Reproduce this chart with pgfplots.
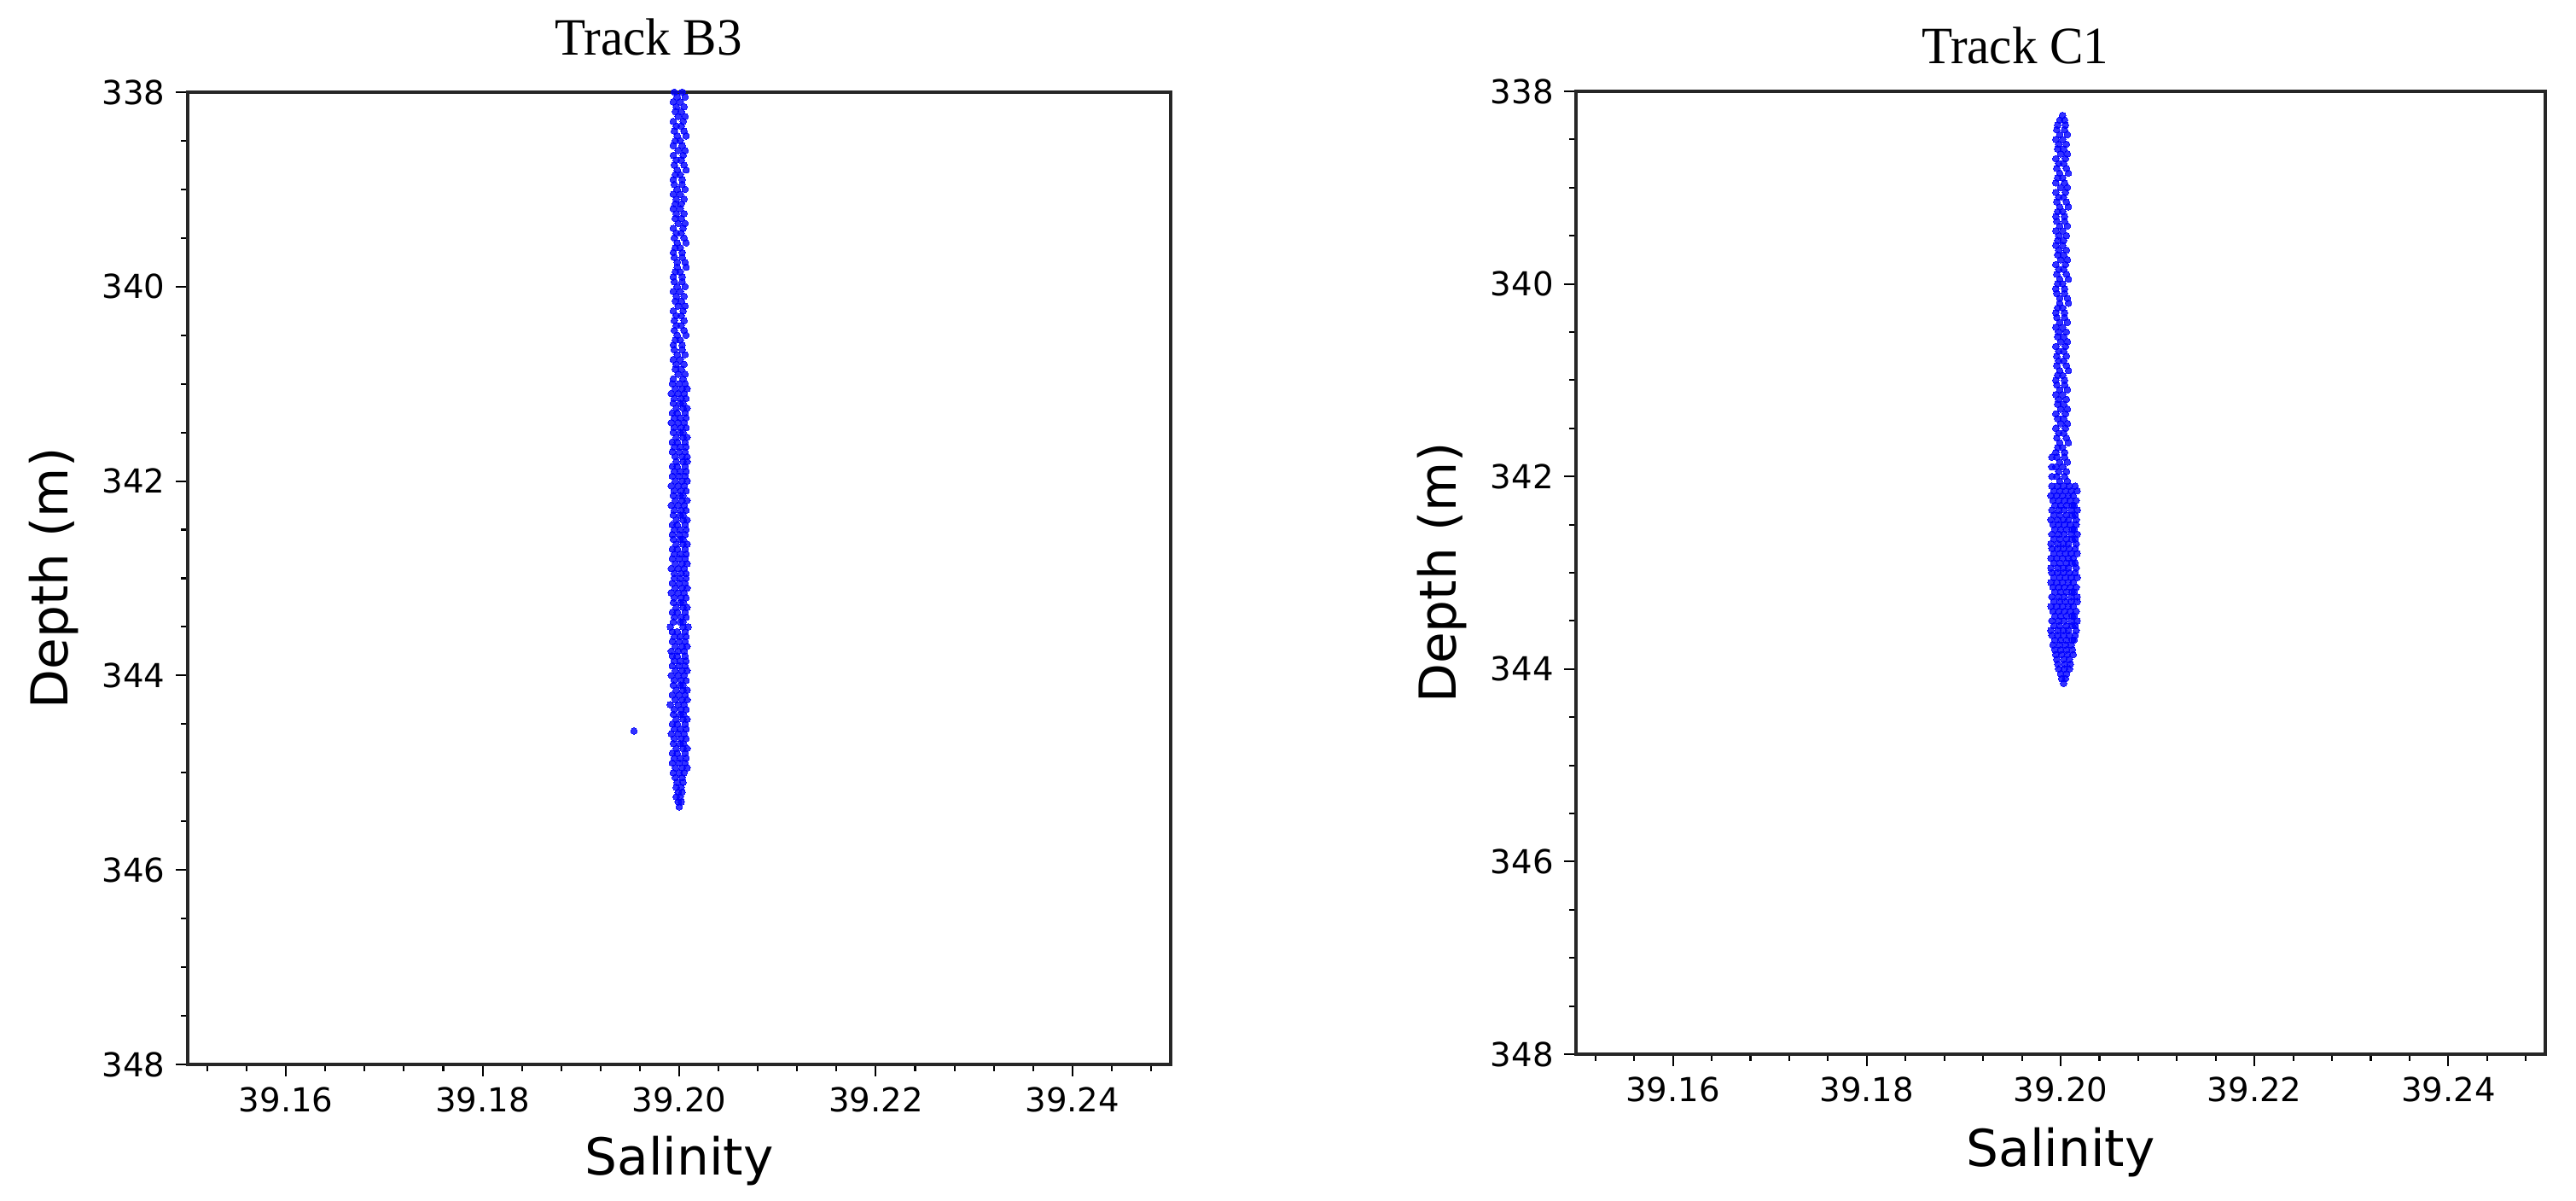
\documentclass[border=0pt]{standalone}
\usepackage{fontspec}
\setmainfont{DejaVu Sans}
\newfontfamily\titlefont{Liberation Serif}
\usepackage{pgfplots}
\usepackage{pgfplotstable}
\pgfplotsset{compat=1.18}

% Track B3: depth, then up to three salinity samples per depth
\pgfplotstableread{
d a b c
338.00 39.1995 39.2003 nan
338.05 39.1998 39.2006 nan
338.10 39.1994 39.2001 nan
338.15 39.1997 39.2005 nan
338.20 39.1996 39.2002 nan
338.25 39.1999 39.2006 nan
338.30 39.1994 39.2004 nan
338.35 39.1997 39.2002 nan
338.40 39.1995 39.2005 nan
338.45 39.1998 39.2007 nan
338.50 39.1996 39.2001 nan
338.55 39.1994 39.2003 nan
338.60 39.1999 39.2006 nan
338.65 39.1994 39.2004 nan
338.70 39.1997 39.2002 nan
338.75 39.1995 39.2005 nan
338.80 39.1998 39.2007 nan
338.85 39.1996 39.2001 nan
338.90 39.1994 39.2003 nan
338.95 39.1995 39.2003 nan
339.00 39.1998 39.2006 nan
339.05 39.1994 39.2001 nan
339.10 39.1997 39.2005 nan
339.15 39.1996 39.2002 nan
339.20 39.1994 39.2001 nan
339.25 39.1997 39.2005 nan
339.30 39.1996 39.2002 nan
339.35 39.1999 39.2006 nan
339.40 39.1994 39.2004 nan
339.45 39.1997 39.2002 nan
339.50 39.1995 39.2005 nan
339.55 39.1998 39.2007 nan
339.60 39.1996 39.2001 nan
339.65 39.1994 39.2003 nan
339.70 39.1995 39.2003 nan
339.75 39.1998 39.2006 nan
339.80 39.1998 39.2007 nan
339.85 39.1996 39.2001 nan
339.90 39.1994 39.2003 nan
339.95 39.1995 39.2003 nan
340.00 39.1998 39.2006 nan
340.05 39.1994 39.2001 nan
340.10 39.1997 39.2005 nan
340.15 39.1996 39.2002 nan
340.20 39.1999 39.2006 nan
340.25 39.1994 39.2004 nan
340.30 39.1997 39.2002 nan
340.35 39.1995 39.2005 nan
340.40 39.1997 39.2002 nan
340.45 39.1995 39.2005 nan
340.50 39.1998 39.2007 nan
340.55 39.1996 39.2001 nan
340.60 39.1994 39.2003 nan
340.65 39.1995 39.2003 nan
340.70 39.1998 39.2006 nan
340.75 39.1994 39.2001 nan
340.80 39.1997 39.2005 nan
340.85 39.1996 39.2002 nan
340.90 39.1999 39.2006 nan
340.95 39.1994 39.2004 nan
341.00 39.1993 39.2000 39.2006
341.05 39.1996 39.2003 39.2008
341.10 39.1992 39.1999 39.2005
341.15 39.1995 39.2002 39.2007
341.20 39.1994 39.2001 39.2004
341.25 39.1997 39.2004 39.2008
341.30 39.1993 39.1998 39.2006
341.35 39.1995 39.2001 39.2007
341.40 39.1992 39.1999 39.2005
341.45 39.1995 39.2002 39.2007
341.50 39.1994 39.2001 39.2004
341.55 39.1997 39.2004 39.2008
341.60 39.1993 39.1998 39.2006
341.65 39.1995 39.2001 39.2007
341.70 39.1993 39.2000 39.2006
341.75 39.1996 39.2003 39.2008
341.80 39.1997 39.2004 39.2008
341.85 39.1993 39.1998 39.2006
341.90 39.1995 39.2001 39.2007
341.95 39.1993 39.2000 39.2006
342.00 39.1996 39.2003 39.2008
342.05 39.1992 39.1999 39.2005
342.10 39.1995 39.2002 39.2007
342.15 39.1994 39.2001 39.2004
342.20 39.1996 39.2003 39.2008
342.25 39.1992 39.1999 39.2005
342.30 39.1995 39.2002 39.2007
342.35 39.1994 39.2001 39.2004
342.40 39.1997 39.2004 39.2008
342.45 39.1993 39.1998 39.2006
342.50 39.1995 39.2001 39.2007
342.55 39.1993 39.2000 39.2006
342.60 39.1994 39.2001 39.2004
342.65 39.1997 39.2004 39.2008
342.70 39.1993 39.1998 39.2006
342.75 39.1995 39.2001 39.2007
342.80 39.1993 39.2000 39.2006
342.85 39.1996 39.2003 39.2008
342.90 39.1992 39.1999 39.2005
342.95 39.1995 39.2002 39.2007
343.00 39.1995 39.2001 39.2007
343.05 39.1993 39.2000 39.2006
343.10 39.1996 39.2003 39.2008
343.15 39.1992 39.1999 39.2005
343.20 39.1995 39.2002 39.2007
343.25 39.1994 39.2001 39.2004
343.30 39.1997 39.2004 39.2008
343.35 39.1993 39.1998 39.2006
343.40 39.1995 39.2002 39.2007
343.45 39.1994 39.2001 39.2004
343.50 39.1991 39.2004 39.2009
343.55 39.1993 39.1998 39.2006
343.60 39.1995 39.2001 39.2007
343.65 39.1993 39.2000 39.2006
343.70 39.1996 39.2003 39.2008
343.75 39.1992 39.1999 39.2005
343.80 39.1993 39.1998 39.2006
343.85 39.1995 39.2001 39.2007
343.90 39.1993 39.2000 39.2006
343.95 39.1996 39.2003 39.2008
344.00 39.1992 39.1999 39.2005
344.05 39.1995 39.2002 39.2007
344.10 39.1994 39.2001 39.2004
344.15 39.1997 39.2004 39.2008
344.20 39.1993 39.2000 39.2006
344.25 39.1996 39.2003 39.2008
344.30 39.1991 39.1999 39.2005
344.35 39.1995 39.2002 39.2007
344.40 39.1994 39.2001 39.2004
344.45 39.1997 39.2004 39.2008
344.50 39.1993 39.1998 39.2006
344.55 39.1995 39.2001 39.2007
344.60 39.1992 39.1999 39.2005
344.65 39.1995 39.2002 39.2007
344.70 39.1994 39.2001 39.2004
344.75 39.1997 39.2004 39.2008
344.80 39.1993 39.1998 39.2006
344.85 39.1995 39.2001 39.2007
344.90 39.1993 39.2000 39.2006
344.95 39.1996 39.2003 39.2008
345.00 39.1994 39.2000 39.2005
345.05 39.1996 39.2003 nan
345.10 39.1998 39.2004 nan
345.15 39.1997 39.2002 nan
345.20 39.1999 39.2003 nan
345.25 39.1997 39.2001 nan
345.30 39.1999 39.2002 nan
345.35 39.2000 nan nan
}\trackB

% Track C1: depth, then up to five salinity samples per depth
\pgfplotstableread{
d a b c e f
338.25 39.2002 nan nan nan nan
338.30 39.1999 39.2004 nan nan nan
338.35 39.1997 39.2005 nan nan nan
338.40 39.1996 39.2004 nan nan nan
338.45 39.1999 39.2007 nan nan nan
338.50 39.1995 39.2002 nan nan nan
338.55 39.1998 39.2006 nan nan nan
338.60 39.1997 39.2003 nan nan nan
338.65 39.2000 39.2007 nan nan nan
338.70 39.1995 39.2005 nan nan nan
338.75 39.1998 39.2003 nan nan nan
338.80 39.1996 39.2006 nan nan nan
338.85 39.1999 39.2008 nan nan nan
338.90 39.1997 39.2002 nan nan nan
338.95 39.1995 39.2004 nan nan nan
339.00 39.2000 39.2007 nan nan nan
339.05 39.1995 39.2005 nan nan nan
339.10 39.1998 39.2003 nan nan nan
339.15 39.1996 39.2006 nan nan nan
339.20 39.1999 39.2008 nan nan nan
339.25 39.1997 39.2002 nan nan nan
339.30 39.1995 39.2004 nan nan nan
339.35 39.1996 39.2004 nan nan nan
339.40 39.1999 39.2007 nan nan nan
339.45 39.1995 39.2002 nan nan nan
339.50 39.1998 39.2006 nan nan nan
339.55 39.1997 39.2003 nan nan nan
339.60 39.1995 39.2002 nan nan nan
339.65 39.1998 39.2006 nan nan nan
339.70 39.1997 39.2003 nan nan nan
339.75 39.2000 39.2007 nan nan nan
339.80 39.1995 39.2005 nan nan nan
339.85 39.1998 39.2003 nan nan nan
339.90 39.1996 39.2006 nan nan nan
339.95 39.1999 39.2008 nan nan nan
340.00 39.1997 39.2002 nan nan nan
340.05 39.1995 39.2004 nan nan nan
340.10 39.1996 39.2004 nan nan nan
340.15 39.1999 39.2007 nan nan nan
340.20 39.1999 39.2008 nan nan nan
340.25 39.1997 39.2002 nan nan nan
340.30 39.1995 39.2004 nan nan nan
340.35 39.1996 39.2004 nan nan nan
340.40 39.1999 39.2007 nan nan nan
340.45 39.1995 39.2002 nan nan nan
340.50 39.1998 39.2006 nan nan nan
340.55 39.1997 39.2003 nan nan nan
340.60 39.2000 39.2007 nan nan nan
340.65 39.1995 39.2005 nan nan nan
340.70 39.1998 39.2003 nan nan nan
340.75 39.1996 39.2006 nan nan nan
340.80 39.1998 39.2003 nan nan nan
340.85 39.1996 39.2006 nan nan nan
340.90 39.1999 39.2008 nan nan nan
340.95 39.1997 39.2002 nan nan nan
341.00 39.1995 39.2004 nan nan nan
341.05 39.1996 39.2004 nan nan nan
341.10 39.1999 39.2007 nan nan nan
341.15 39.1995 39.2002 nan nan nan
341.20 39.1998 39.2006 nan nan nan
341.25 39.1997 39.2003 nan nan nan
341.30 39.2000 39.2007 nan nan nan
341.35 39.1995 39.2005 nan nan nan
341.40 39.1997 39.2003 nan nan nan
341.45 39.2000 39.2007 nan nan nan
341.50 39.1995 39.2005 nan nan nan
341.55 39.1998 39.2003 nan nan nan
341.60 39.1996 39.2006 nan nan nan
341.65 39.1999 39.2008 nan nan nan
341.70 39.1997 39.2002 nan nan nan
341.75 39.1995 39.2004 nan nan nan
341.80 39.1996 39.2004 39.1991 nan nan
341.85 39.1999 39.2007 nan nan nan
341.90 39.1995 39.2002 39.1991 nan nan
341.95 39.1998 39.2006 nan nan nan
342.00 39.1996 39.2004 39.1991 nan nan
342.05 39.1999 39.2007 nan nan nan
342.10 39.1991 39.1997 39.2003 39.2009 39.2015
342.15 39.1993 39.1999 39.2005 39.2011 39.2017
342.20 39.1990 39.1996 39.2002 39.2008 39.2013
342.25 39.1992 39.1998 39.2004 39.2010 39.2016
342.30 39.1994 39.2000 39.2006 39.2012 39.2014
342.35 39.1991 39.1998 39.2004 39.2011 39.2017
342.40 39.1993 39.1999 39.2006 39.2012 39.2015
342.45 39.1990 39.1997 39.2003 39.2008 39.2016
342.50 39.1992 39.1998 39.2004 39.2010 39.2016
342.55 39.1994 39.2000 39.2006 39.2012 39.2014
342.60 39.1991 39.1998 39.2004 39.2011 39.2017
342.65 39.1993 39.1999 39.2006 39.2012 39.2015
342.70 39.1990 39.1997 39.2003 39.2008 39.2016
342.75 39.1991 39.1997 39.2003 39.2009 39.2015
342.80 39.1993 39.1999 39.2005 39.2011 39.2017
342.85 39.1990 39.1996 39.2002 39.2008 39.2013
342.90 39.1993 39.1999 39.2006 39.2012 39.2015
342.95 39.1990 39.1997 39.2003 39.2008 39.2016
343.00 39.1991 39.1997 39.2003 39.2009 39.2015
343.05 39.1993 39.1999 39.2005 39.2011 39.2017
343.10 39.1990 39.1996 39.2002 39.2008 39.2013
343.15 39.1992 39.1998 39.2004 39.2010 39.2016
343.20 39.1994 39.2000 39.2006 39.2012 39.2014
343.25 39.1991 39.1998 39.2004 39.2011 39.2017
343.30 39.1993 39.1999 39.2005 39.2011 39.2017
343.35 39.1990 39.1996 39.2002 39.2008 39.2013
343.40 39.1992 39.1998 39.2004 39.2010 39.2016
343.45 39.1994 39.2000 39.2006 39.2012 39.2014
343.50 39.1991 39.1998 39.2004 39.2011 39.2017
343.55 39.1993 39.1999 39.2006 39.2012 39.2015
343.60 39.1990 39.1997 39.2003 39.2008 39.2016
343.65 39.1991 39.1997 39.2003 39.2009 39.2015
343.70 39.1994 39.2000 39.2006 39.2012 39.2014
343.75 39.1992 39.1999 39.2005 39.2011 nan
343.80 39.1994 39.2000 39.2006 39.2012 nan
343.85 39.1995 39.2001 39.2007 39.2013 nan
343.90 39.1996 39.2003 39.2009 nan nan
343.95 39.1997 39.2004 39.2010 nan nan
344.00 39.1998 39.2004 39.2009 nan nan
344.05 39.2000 39.2006 nan nan nan
344.10 39.2001 39.2005 nan nan nan
344.15 39.2003 nan nan nan nan
}\trackC

\pgfplotsset{
  salinity/.style={
    scale only axis,
    xmin=39.15, xmax=39.25,
    ymin=338, ymax=348,
    y dir=reverse,
    xtick={39.16,39.18,39.20,39.22,39.24},
    minor xtick={39.152,39.156,39.164,39.168,39.172,39.176,39.184,39.188,39.192,39.196,
      39.204,39.208,39.212,39.216,39.224,39.228,39.232,39.236,39.244,39.248},
    ytick={338,340,342,344,346,348},
    minor y tick num=3,
    xtick pos=bottom, ytick pos=left,
    tick align=outside,
    major tick length=0.14cm, minor tick length=0.08cm,
    tick style={black, line width=0.6pt},
    axis line style={black!85, line width=0.9pt},
    /pgf/number format/assume math mode=true,
    tick label style={font=\fontsize{11}{13}\selectfont},
    xticklabel style={/pgf/number format/fixed, /pgf/number format/fixed zerofill,
      /pgf/number format/precision=2},
    label style={font=\fontsize{17}{20}\selectfont},
    xlabel={Salinity}, ylabel={Depth (m)},
    % pgfplots adds its own 6pt shift above the title position
    title style={font=\titlefont\fontsize{17.5}{20}\selectfont, anchor=base,
      inner sep=0pt, xscale=0.96},
  },
  dots/.style={only marks, mark=*, mark size=1.1pt, color=blue,
    mark options={solid, fill=blue, draw=blue, line width=0pt, opacity=0.8}},
}

\begin{document}
\begin{tikzpicture}
\path (0,0) rectangle (30.19cm,14.07cm);

\begin{axis}[salinity,
  at={(2.20cm,1.60cm)}, anchor=south west,
  width=11.52cm, height=11.39cm,
  title={Track B3},
  title style={at={(axis description cs:0.469,1.0201)}},
  xlabel style={at={(axis description cs:0.5,-0.114)}, anchor=base},
  ylabel style={at={(axis description cs:-0.136,0.5)}, anchor=center},
]
\addplot[dots] table[x=a, y=d] {\trackB};
\addplot[dots] table[x=b, y=d] {\trackB};
\addplot[dots] table[x=c, y=d] {\trackB};
\addplot[dots] coordinates {(39.1954,344.57)};
\end{axis}

\begin{axis}[salinity,
  at={(18.47cm,1.72cm)}, anchor=south west,
  width=11.36cm, height=11.28cm,
  title={Track C1},
  title style={at={(axis description cs:0.453,1.0103)}},
  xlabel style={at={(axis description cs:0.5,-0.117)}, anchor=base},
  ylabel style={at={(axis description cs:-0.138,0.5)}, anchor=center},
]
\addplot[dots] table[x=a, y=d] {\trackC};
\addplot[dots] table[x=b, y=d] {\trackC};
\addplot[dots] table[x=c, y=d] {\trackC};
\addplot[dots] table[x=e, y=d] {\trackC};
\addplot[dots] table[x=f, y=d] {\trackC};
\end{axis}
\end{tikzpicture}
\end{document}
